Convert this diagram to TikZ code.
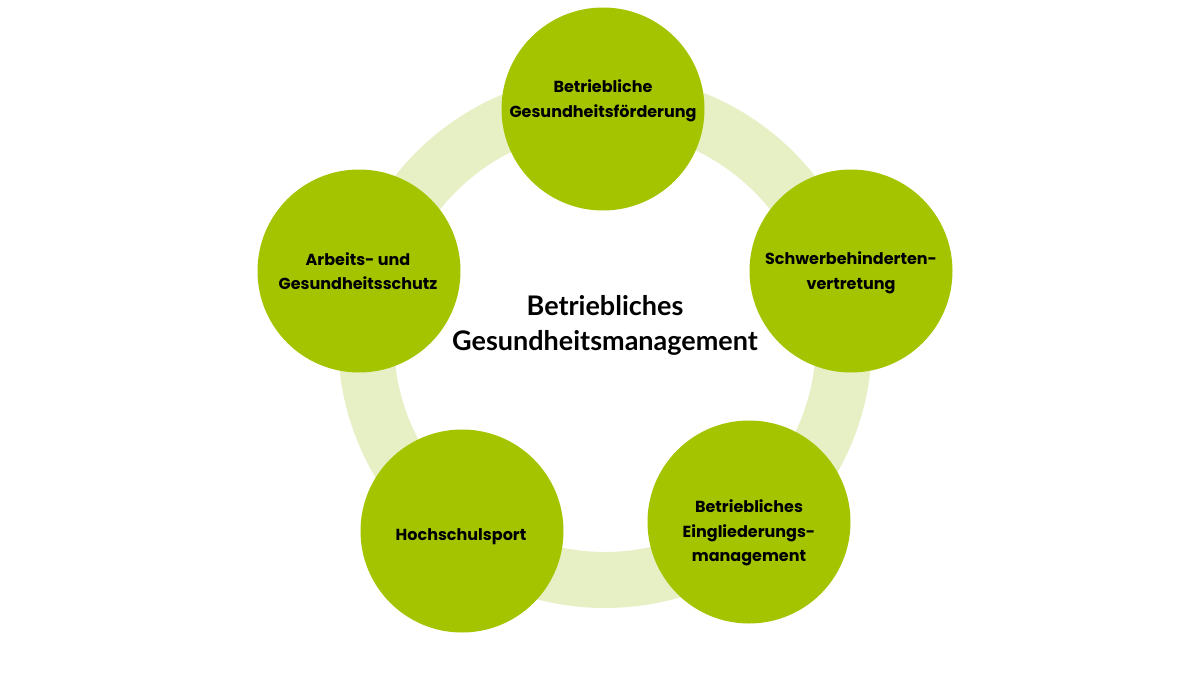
\documentclass[tikz,border=0pt]{standalone}
\usepackage{fontspec}
\setmainfont{Lato}
\newfontfamily\tagfont{Poppins}
\definecolor{bgmgreen}{HTML}{A5C400}
\definecolor{bgmring}{HTML}{E7F0C5}
\begin{document}
\begin{tikzpicture}[x=1pt,y=-1pt,
	spot/.style={circle, fill=bgmgreen, minimum size=203pt, inner sep=0pt},
	tag/.style={align=center, font=\tagfont\fontsize{16}{24.5}\selectfont\bfseries, text=black}]
	\useasboundingbox[fill=white] (0,0) rectangle (1200,675);
	\coordinate (mid) at (605,341);
	\draw[bgmring, line width=56pt] (mid) circle (239pt);
	\node (title) at (605,325) [align=center, font=\fontsize{27}{35}\selectfont\bfseries] {Betriebliches\\Gesundheitsmanagement};
	\node (s1) [spot] at (603,109) {};
	\node (s2) [spot] at (851,271) {};
	\node (s3) [spot] at (749,522) {};
	\node (s4) [spot] at (462,531) {};
	\node (s5) [spot] at (359,271) {};
	\node (t1) [tag] at (603,101) {Betriebliche\\Gesundheitsförderung};
	\node (t2) [tag] at (851,273) {Schwerbehinderten-\\vertretung};
	\node (t3) [tag] at (749,533) {Betriebliches\\Eingliederungs-\\management};
	\node (t4) [tag] at (461,537) {Hochschulsport};
	\node (t5) [tag] at (358,271) {Arbeits- und\\Gesundheitsschutz};
\end{tikzpicture}
\end{document}
